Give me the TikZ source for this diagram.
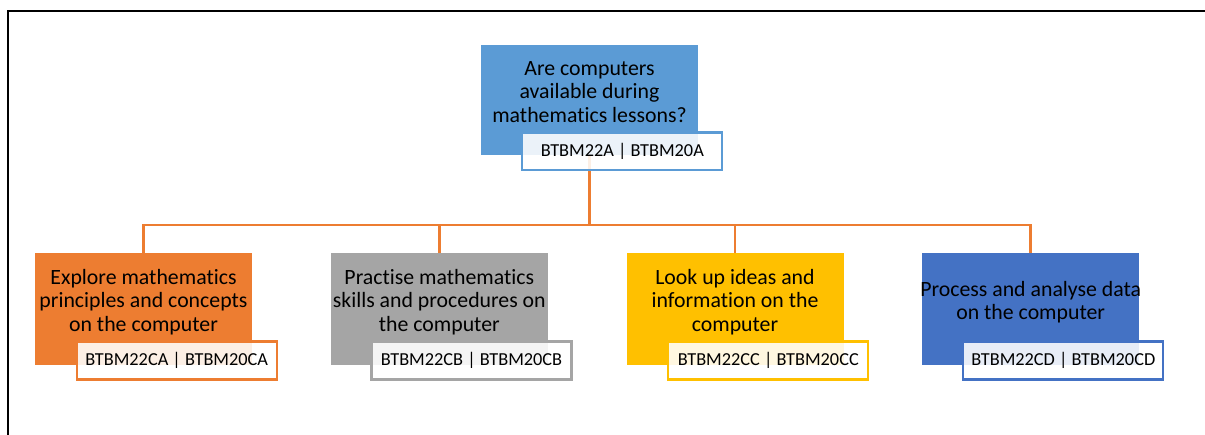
\documentclass[tikz,border=0pt]{standalone}
\usepackage{fontspec}
\setmainfont{Carlito}[Ligatures=NoCommon]
\definecolor{cqblue}{HTML}{5B9BD5}
\definecolor{corange}{HTML}{ED7D31}
\definecolor{cgray}{HTML}{A5A5A5}
\definecolor{cgold}{HTML}{FFC000}
\definecolor{cblue}{HTML}{4472C4}
\begin{document}
\begin{tikzpicture}[x=1pt,y=-1pt,
  box/.style={rectangle, minimum width=217pt, minimum height=112pt, inner sep=0pt, fill=#1},
  tag/.style={rectangle, minimum width=200pt, minimum height=38pt, inner sep=0pt,
    draw=#1, line width=2.2pt, fill=white, fill opacity=0.88, text opacity=1,
    font=\fontsize{18.3}{20}\selectfont},
  txt/.style={align=center, inner sep=0pt, font=\fontsize{21.8}{23.5}\selectfont},
  conn/.style={draw=corange, line width=2.5pt}]
\useasboundingbox (0,0) rectangle (1205,435);

% outer frame (top and left edges)
\draw[line width=2.5pt] (8,435) -- (8,11) -- (1205,11);

% root question box
\node[box=cqblue, minimum height=110pt] (q) at (589.5,100) {};
\node[txt] (qt) at (589.5,92) {Are computers\\available during\\mathematics lessons?};

% child boxes
\node[box=corange] (a) at (143.5,309) {};
\node[box=cgray]   (b) at (439.3,309) {};
\node[box=cgold]   (c) at (735,309) {};
\node[box=cblue]   (d) at (1030.7,309) {};

\node[txt] (at) at (143.5,302) {Explore mathematics\\principles and concepts\\on the computer};
\node[txt] (bt) at (439.3,302) {Practise mathematics\\skills and procedures on\\the computer};
\node[txt] (ct) at (735,302) {Look up ideas and\\information on the\\computer};
\node[txt] (dt) at (1030.7,302) {Process and analyse data\\on the computer};

% connectors
\coordinate (bus) at (589.5,225);
\draw[conn] (q.south) -- (bus);
\draw[conn] (a.north) |- (bus);
\draw[conn] (b.north) |- (bus);
\draw[conn] (c.north) |- (bus);
\draw[conn] (d.north) |- (bus);

% variable name tags
\node[tag=cqblue, minimum height=37.5pt] (ql) at (622.3,151.3) {BTBM22A | BTBM20A};
\node[tag=corange] (al) at (176.7,360.5) {BTBM22CA | BTBM20CA};
\node[tag=cgray]   (bl) at (471.5,360.5) {BTBM22CB | BTBM20CB};
\node[tag=cgold]   (cl) at (768.3,360.5) {BTBM22CC | BTBM20CC};
\node[tag=cblue]   (dl) at (1063.3,360.5) {BTBM22CD | BTBM20CD};
\end{tikzpicture}
\end{document}
